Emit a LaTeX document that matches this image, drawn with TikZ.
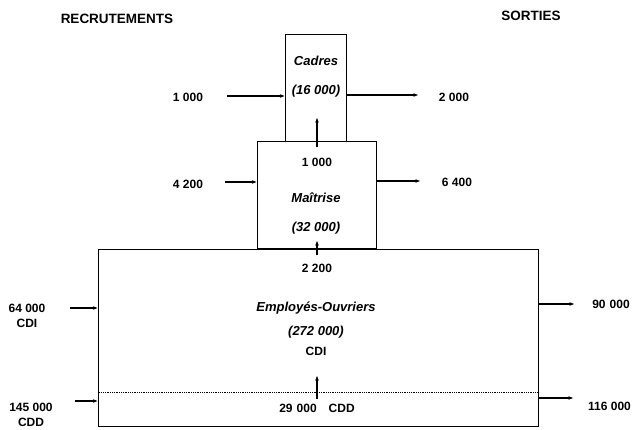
\documentclass[tikz,border=0pt]{standalone}
\usepackage{fontspec}
\setmainfont{Liberation Sans}
\usetikzlibrary{arrows.meta}
\begin{document}
\begin{tikzpicture}[x=1pt,y=-1pt,
  box/.style={draw,line width=1pt,inner sep=0pt},
  lbl/.style={font=\bfseries\fontsize{12}{15}\selectfont,inner sep=1pt},
  ilbl/.style={font=\bfseries\itshape\fontsize{13}{15}\selectfont,inner sep=1pt},
  head/.style={font=\bfseries\fontsize{13.5}{15}\selectfont,inner sep=1pt},
  arr/.style={-{Stealth[length=4.5pt,width=3.5pt]},line width=1.2pt}]
\useasboundingbox (0,0) rectangle (639,429);
% boxes
\node[box,minimum width=61pt,minimum height=107pt] (cad) at (315.5,87.5) {};
\node[box,minimum width=119pt,minimum height=107pt] (mai) at (316.5,194.5) {};
\node[box,minimum width=440pt,minimum height=177pt] (emp) at (318,337.5) {};
\draw[densely dotted,line width=0.8pt] (emp.west |- 0,392) coordinate (dl) -- (dl -| emp.east);
% headings
\node[head] (rec) at (117,19) {RECRUTEMENTS};
\node[head] (sor) at (531,16) {SORTIES};
% box texts
\node[ilbl] (tcad) at (316,61) {Cadres};
\node[ilbl] (ncad) at (316,91) {(16 000)};
\node[lbl] (m1) at (317,162) {1 000};
\node[ilbl] (tmai) at (316,198) {Maîtrise};
\node[ilbl] (nmai) at (316,228) {(32 000)};
\node[lbl] (m2) at (317,268) {2 200};
\node[ilbl] (temp) at (316,308) {Employés-Ouvriers};
\node[ilbl] (nemp) at (316,332) {(272 000)};
\node[lbl] (cdi) at (316,351) {CDI};
\node[lbl] (m3) at (317,408) {29\,\,000\quad CDD};
% left labels
\node[lbl] (l1) at (188,97) {1 000};
\node[lbl] (l2) at (188,184) {4 200};
\node[lbl,align=center] (l3) at (27,316) {64 000\\CDI};
\node[lbl,align=center] (l4) at (31,415) {145 000\\CDD};
% right labels
\node[lbl] (r1) at (454,97) {2 000};
\node[lbl] (r2) at (457,182) {6 400};
\node[lbl] (r3) at (611,304) {90\,\,000};
\node[lbl,anchor=west] (r4) at (587,406) {116 000};
% arrows in
\coordinate (a1) at (227,96);  \draw[arr] (a1) -- (a1 -| cad.west);
\coordinate (a2) at (225,182); \draw[arr] (a2) -- (a2 -| mai.west);
\coordinate (a3) at (70,308);  \draw[arr] (a3) -- (a3 -| emp.west);
\coordinate (a4) at (75,401);  \draw[arr] (a4) -- (a4 -| emp.west);
% arrows out
\coordinate (b1) at (418,95);  \draw[arr] (b1 -| cad.east) -- (b1);
\coordinate (b2) at (420,181); \draw[arr] (b2 -| mai.east) -- (b2);
\coordinate (b3) at (574,304); \draw[arr] (b3 -| emp.east) -- (b3);
\coordinate (b4) at (573,398); \draw[arr] (b4 -| emp.east) -- (b4);
% promotions
\coordinate (p1) at (317,118); \draw[arr] (p1 |- 0,147) -- (p1);
\coordinate (p2) at (317,241); \draw[arr] (p2 |- 0,255) -- (p2);
\coordinate (p3) at (317,376); \draw[arr] (p3 |- 0,399) -- (p3);
\end{tikzpicture}
\end{document}
